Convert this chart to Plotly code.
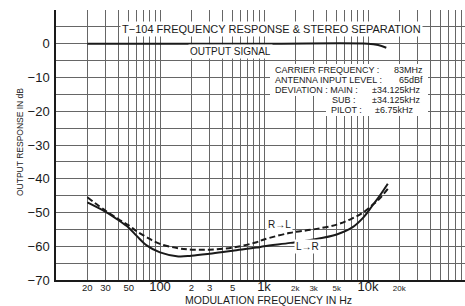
import numpy as np
import plotly.graph_objects as go

# ---- data ----
freq = [20, 30, 40, 50, 60, 75, 100, 150, 200, 300, 500, 850, 1000, 1800, 3000, 5000, 7000, 9000, 11000, 13000, 15500]
l_to_r = [-47, -49.8, -52.3, -54.5, -57, -59.8, -61.8, -63, -62.8, -62.2, -61.3, -60.4, -60, -59, -58, -56.5, -54.5, -51.5, -48, -45, -41.5]
r_to_l = [-45.5, -49.5, -52, -53.8, -55.6, -57.4, -59.3, -60.6, -61, -61, -60.4, -58.8, -58, -56, -55, -53.6, -51.8, -50, -47.8, -45.8, -43]

out_freq = [20, 1000, 10000, 12500, 15000]
out_level = [0, 0, 0, -0.4, -1.2]

x_grid = [10, 20, 30, 40, 50, 60, 70, 80, 90,
          100, 200, 300, 400, 500, 600, 700, 800, 900,
          1000, 2000, 3000, 4000, 5000, 6000, 7000, 8000, 9000,
          10000, 20000, 30000, 40000, 50000, 60000, 70000, 80000]
x_labels = {20: ("20", 9.5), 30: ("30", 9.5), 50: ("50", 9.5), 100: ("100", 13),
            200: ("2", 9.5), 300: ("3", 9.5), 500: ("5", 9.5), 1000: ("1k", 13),
            2000: ("2k", 8), 3000: ("3k", 8), 5000: ("5k", 8), 10000: ("10k", 13),
            20000: ("20k", 8)}

y_grid = list(range(-70, 11, 5))
y_labels = {0: "0", -10: "−10", -20: "−20", -30: "−30", -40: "−40",
            -50: "−50", -60: "−60", -70: "−70"}

title_text = "T−104 FREQUENCY RESPONSE & STEREO SEPARATION"
info_rows = [("CARRIER FREQUENCY :", "83MHz"),
             ("ANTENNA INPUT LEVEL :", "65dBf"),
             ("DEVIATION : MAIN :", "±34.125kHz"),
             ("SUB :", "±34.125kHz"),
             ("PILOT :", "±6.75kHz")]

# ---- figure ----
W, H = 465, 306
L, R, T, B = 56, 0, 10, 26
pw, ph = W - L - R, H - T - B
def px(x):  # pixel x -> paper
    return (x - L) / pw
def py(y):  # pixel y -> paper
    return (H - B - y) / ph

FONT = "Liberation Sans, Arial, sans-serif"
INK = "#1a1a1a"
GRID = "#666666"

fig = go.Figure()
fig.add_trace(go.Scatter(x=out_freq, y=out_level, mode="lines",
                         line=dict(color=INK, width=2), line_shape="spline",
                         hoverinfo="skip", showlegend=False))
fig.add_trace(go.Scatter(x=freq, y=r_to_l, mode="lines", line_shape="spline",
                         line=dict(color=INK, width=2, dash="6px,3px"),
                         showlegend=False, name="R→L"))
fig.add_trace(go.Scatter(x=freq, y=l_to_r, mode="lines", line_shape="spline",
                         line=dict(color=INK, width=2),
                         showlegend=False, name="L→R"))

xt = [f'<span style="font-size:{x_labels[v][1]}px">{x_labels[v][0]}</span>' if v in x_labels else "" for v in x_grid]
yt = [y_labels.get(v, "") for v in y_grid]

fig.update_xaxes(type="log", range=[1, 1 + pw / 104.0],
                 tickmode="array", tickvals=x_grid, ticktext=xt,
                 showgrid=True, gridcolor=GRID, gridwidth=1,
                 showline=True, linecolor=INK, linewidth=1.5,
                 ticks="", zeroline=False, ticklabelstandoff=-3,
                 tickfont=dict(family=FONT, size=10, color=INK))
fig.update_yaxes(range=[-70, 10], tickmode="array", tickvals=y_grid, ticktext=yt,
                 showgrid=True, gridcolor=GRID, gridwidth=1,
                 showline=True, linecolor=INK, linewidth=1.5,
                 ticks="", zeroline=False, ticklabelstandoff=2,
                 tickfont=dict(family=FONT, size=13, color=INK))

shapes = [
    dict(type="rect", xref="paper", yref="paper", x0=px(270), x1=px(428), y0=py(96), y1=py(64),
         fillcolor="white", line=dict(width=0), layer="above"),
    dict(type="rect", xref="paper", yref="paper", x0=px(326), x1=px(428), y0=py(116), y1=py(96),
         fillcolor="white", line=dict(width=0), layer="above"),
]

ann = []
def add(text, x, y, size, xanchor="center", bg=None, angle=0, xref="paper", yref="paper"):
    d = dict(text=text, x=x, y=y, xref=xref, yref=yref, xanchor=xanchor, yanchor="middle",
             showarrow=False, textangle=angle, font=dict(family=FONT, size=size, color=INK))
    if bg:
        d.update(bgcolor=bg, borderpad=1)
    ann.append(d)

add(title_text, px(271), py(29), 11, bg="white")
add("OUTPUT SIGNAL", px(230), py(51), 10, bg="white")
lefts = [273, 273, 273, 330, 329]
rights = [425, 425, 422, 422, 415]
ys = [70, 80, 90, 100, 110]
for (lab, val), lx, rx, yy in zip(info_rows, lefts, rights, ys):
    add(lab, px(lx), py(yy), 9, xanchor="left")
    add(val, px(rx), py(yy), 9, xanchor="right")
add("R→L", np.log10(1420), -53.7, 10, bg="white", xref="x", yref="y")
add("L→R", np.log10(2600), -60.2, 10, bg="white", xref="x", yref="y")
add("MODULATION FREQUENCY IN Hz", px(268), py(299.5), 10.5)
add("OUTPUT RESPONSE IN dB", px(20), py(142), 8.5, angle=-90)

fig.update_layout(width=W, height=H, margin=dict(l=L, r=R, t=T, b=B, pad=0),
                  paper_bgcolor="white", plot_bgcolor="white",
                  annotations=ann, shapes=shapes, showlegend=False)

fig.write_html("out.html", config={"displayModeBar": False},
               post_script="document.body.style.margin='0';document.body.style.overflow='hidden';")
